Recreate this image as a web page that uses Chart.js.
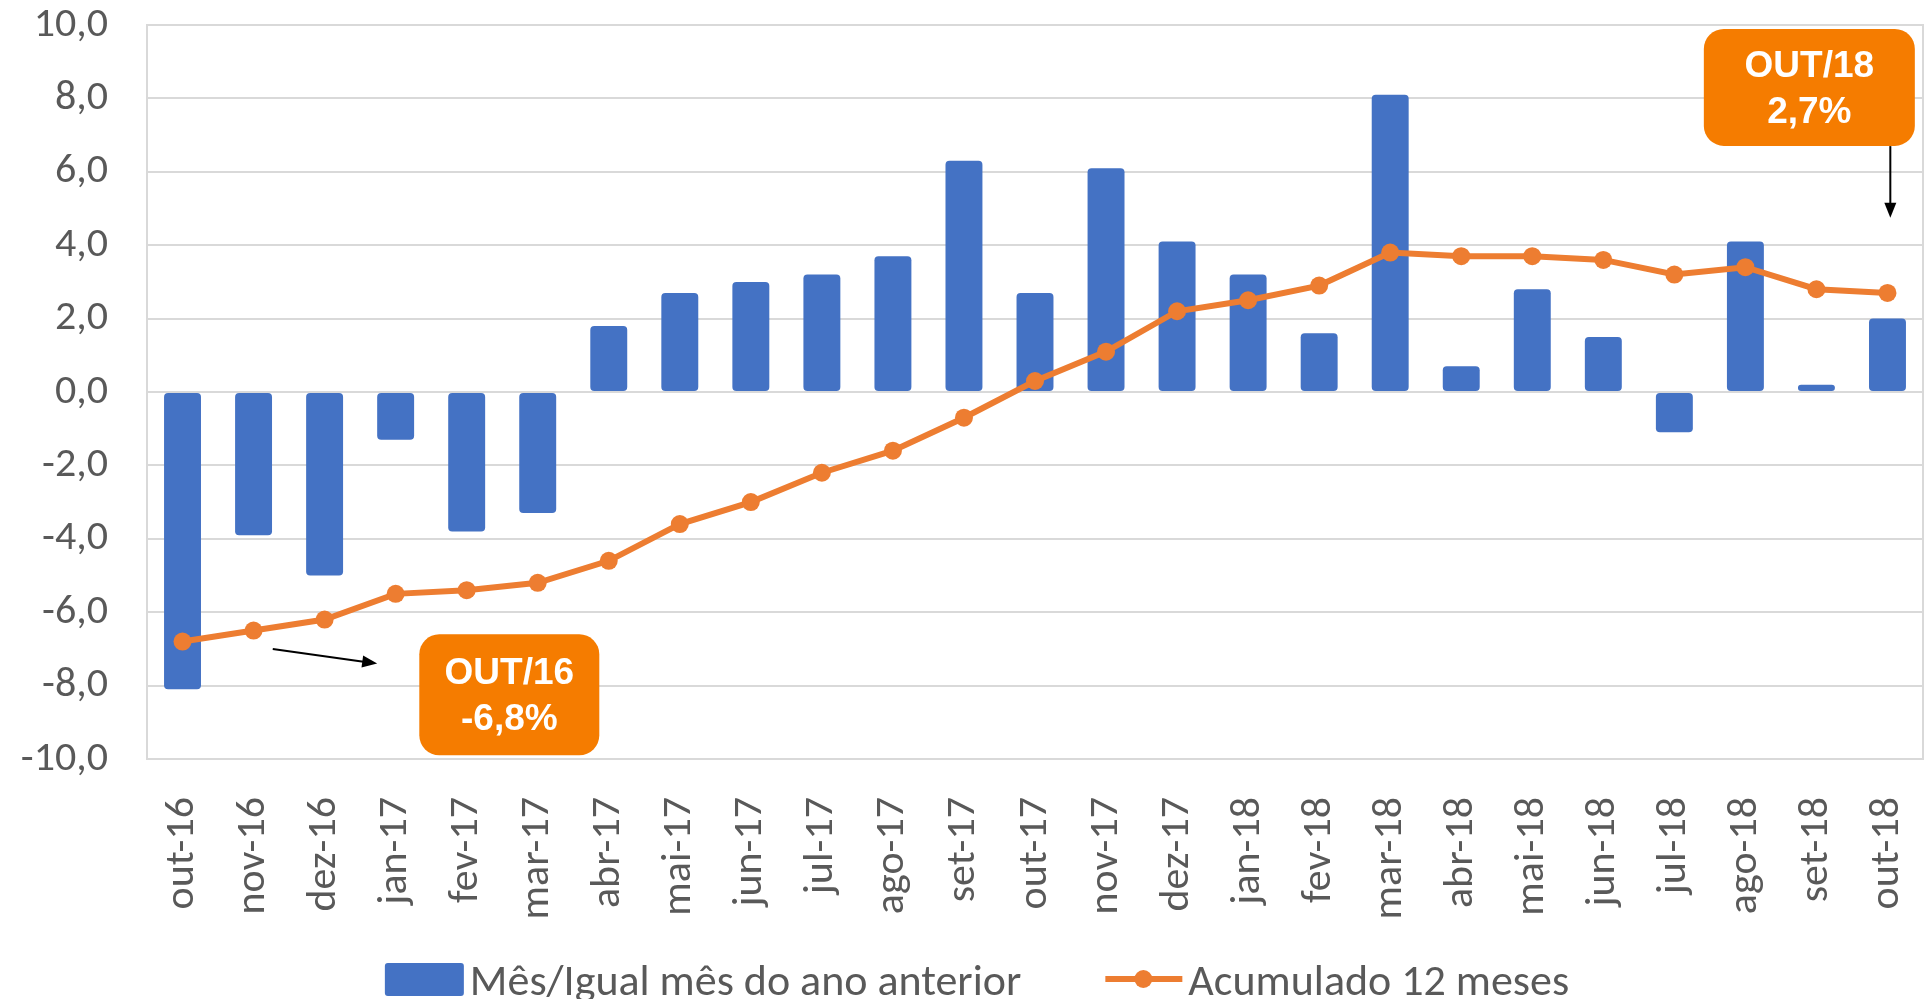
<!DOCTYPE html>
<html>
<head>
<meta charset="utf-8">
<script src="https://cdn.jsdelivr.net/npm/chart.js@4/dist/chart.umd.min.js"></script>
<style>
  html, body { margin: 0; padding: 0; background: #fff; }
  #wrap { width: 1932px; height: 999px; }
</style>
</head>
<body>
<div id="wrap"><canvas id="graph_zone"></canvas></div>
<script>
const categories = ['out-16', 'nov-16', 'dez-16', 'jan-17', 'fev-17', 'mar-17', 'abr-17', 'mai-17', 'jun-17',
    'jul-17', 'ago-17', 'set-17', 'out-17', 'nov-17', 'dez-17', 'jan-18', 'fev-18', 'mar-18', 'abr-18',
    'mai-18', 'jun-18', 'jul-18', 'ago-18', 'set-18', 'out-18'];

const mesValues = [-8.1, -3.9, -5.0, -1.3, -3.8, -3.3, 1.8, 2.7, 3.0, 3.2, 3.7, 6.3, 2.7, 6.1, 4.1,
    3.2, 1.6, 8.1, 0.7, 2.8, 1.5, -1.1, 4.1, 0.2, 2.0];

const acumValues = [-6.8, -6.5, -6.2, -5.5, -5.4, -5.2, -4.6, -3.6, -3.0, -2.2, -1.6, -0.7, 0.3, 1.1, 2.2,
    2.5, 2.9, 3.8, 3.7, 3.7, 3.6, 3.2, 3.4, 2.8, 2.7];

const seriesNames = ['Mês/Igual mês do ano anterior', 'Acumulado 12 meses'];

const blue = '#4472C4';
const orange = '#ED7D31';
const boxOrange = '#F57C00';
const gridGray = '#D9D9D9';
const textGray = '#595959';
const tickFont = 'Carlito, Lato, sans-serif';

function fmt(v) {
    return v.toFixed(1).replace('.', ',');
}

// callouts: anchor index in data + where the box/arrow sits (in axis units)
const callouts = [
    { idx: 0, box: [4.6, -8.25], w: 180, h: 121, arrow: [[1.27, -7.0], [2.74, -7.4]] },
    { idx: 24, box: [22.9, 8.3], w: 211, h: 117, arrow: [[24.04, 6.7], [24.04, 4.75]] }
];

const extras = {
    id: 'extras',
    beforeDatasetsDraw(chart) {
        let ctx = chart.ctx, a = chart.chartArea;
        ctx.save();
        ctx.strokeStyle = gridGray;
        ctx.lineWidth = 2;
        ctx.strokeRect(a.left, a.top, a.right - a.left, a.bottom - a.top);
        ctx.restore();
    },
    afterDatasetDraw(chart, args) {
        if (args.index !== 0) return;
        let ctx = chart.ctx, a = chart.chartArea;
        let y0 = chart.scales.y.getPixelForValue(0);
        ctx.save();
        ctx.strokeStyle = gridGray;
        ctx.lineWidth = 2;
        ctx.beginPath();
        ctx.moveTo(a.left, y0);
        ctx.lineTo(a.right, y0);
        ctx.stroke();
        ctx.restore();
    },
    afterDraw(chart) {
        let ctx = chart.ctx;
        let xs = chart.scales.x, ys = chart.scales.y;
        ctx.save();
        callouts.forEach(c => {
            // arrow
            let x1 = xs.getPixelForValue(c.arrow[0][0]), y1 = ys.getPixelForValue(c.arrow[0][1]);
            let x2 = xs.getPixelForValue(c.arrow[1][0]), y2 = ys.getPixelForValue(c.arrow[1][1]);
            let ang = Math.atan2(y2 - y1, x2 - x1);
            ctx.strokeStyle = '#000';
            ctx.fillStyle = '#000';
            ctx.lineWidth = 2;
            ctx.beginPath();
            ctx.moveTo(x1, y1);
            ctx.lineTo(x2 - 12 * Math.cos(ang), y2 - 12 * Math.sin(ang));
            ctx.stroke();
            ctx.beginPath();
            ctx.moveTo(x2, y2);
            ctx.lineTo(x2 - 15 * Math.cos(ang) + 6 * Math.sin(ang), y2 - 15 * Math.sin(ang) - 6 * Math.cos(ang));
            ctx.lineTo(x2 - 15 * Math.cos(ang) - 6 * Math.sin(ang), y2 - 15 * Math.sin(ang) + 6 * Math.cos(ang));
            ctx.closePath();
            ctx.fill();

            // box
            let cx = xs.getPixelForValue(c.box[0]), cy = ys.getPixelForValue(c.box[1]);
            ctx.fillStyle = boxOrange;
            ctx.beginPath();
            ctx.roundRect(cx - c.w / 2, cy - c.h / 2, c.w, c.h, 20);
            ctx.fill();
            ctx.fillStyle = '#fff';
            ctx.font = 'bold 37px "Liberation Sans", Arial, sans-serif';
            ctx.textAlign = 'center';
            ctx.textBaseline = 'middle';
            let l1 = categories[c.idx].toUpperCase().replace('-', '/');
            let l2 = fmt(acumValues[c.idx]) + '%';
            ctx.fillText(l1, cx, cy - 21);
            ctx.fillText(l2, cx, cy + 25);
        });

        // legend
        ctx.font = '44px ' + tickFont;
        ctx.textAlign = 'left';
        ctx.textBaseline = 'alphabetic';
        let w1 = ctx.measureText(seriesNames[0]).width;
        let w2 = ctx.measureText(seriesNames[1]).width;
        let total = 79 + 6 + w1 + 84 + 83 + 6 + w2;
        let x = chart.width / 2 + 14 - total / 2;
        let base = 995;
        ctx.fillStyle = blue;
        ctx.beginPath();
        ctx.roundRect(x, 963, 79, 33, 3);
        ctx.fill();
        ctx.fillStyle = textGray;
        ctx.fillText(seriesNames[0], x + 85, base);
        x += 85 + w1 + 84;
        ctx.strokeStyle = orange;
        ctx.lineWidth = 6;
        ctx.beginPath();
        ctx.moveTo(x, 979);
        ctx.lineTo(x + 77, 979);
        ctx.stroke();
        ctx.fillStyle = orange;
        ctx.beginPath();
        ctx.arc(x + 38, 979, 9, 0, Math.PI * 2);
        ctx.fill();
        ctx.fillStyle = textGray;
        ctx.fillText(seriesNames[1], x + 83, base);
        ctx.restore();
    }
};

let graph = document.querySelector('#graph_zone').getContext('2d');

let myChart = new Chart(graph, {
    type: 'bar',
    plugins: [extras],
    options: {
        responsive: true,
        maintainAspectRatio: false,
        animation: false,
        layout: {
            padding: { top: 25, right: 8, bottom: 60, left: 0 }
        },
        plugins: {
            legend: { display: false },
            tooltip: { enabled: false }
        },
        scales: {
            x: {
                grid: { display: false, drawTicks: false },
                border: { display: false },
                ticks: {
                    color: textGray,
                    font: { family: tickFont, size: 42 },
                    minRotation: 90,
                    maxRotation: 90,
                    padding: 38,
                    autoSkip: false
                },
                afterFit(scale) {
                    scale.height = 180;
                    scale.paddingLeft = 0;
                    scale.paddingRight = 0;
                }
            },
            y: {
                min: -10,
                max: 10,
                grid: { color: gridGray, lineWidth: 2, drawTicks: false },
                border: { display: false },
                ticks: {
                    stepSize: 2,
                    color: textGray,
                    font: { family: tickFont, size: 42 },
                    padding: 39,
                    callback: v => fmt(v)
                },
                afterFit(scale) {
                    scale.width = 147;
                    scale.paddingTop = 0;
                    scale.paddingBottom = 0;
                }
            }
        }
    },
    data: {
        labels: categories,
        datasets: [{
            type: 'bar',
            label: seriesNames[0],
            data: mesValues,
            backgroundColor: blue,
            borderRadius: 4,
            borderSkipped: false,
            categoryPercentage: 1,
            barPercentage: 0.52,
            order: 2
        },
        {
            type: 'line',
            label: seriesNames[1],
            data: acumValues,
            borderColor: orange,
            backgroundColor: orange,
            borderWidth: 6,
            pointRadius: 9,
            pointBackgroundColor: orange,
            pointBorderWidth: 0,
            tension: 0,
            order: 1
        }]
    }
});
</script>
</body>
</html>
